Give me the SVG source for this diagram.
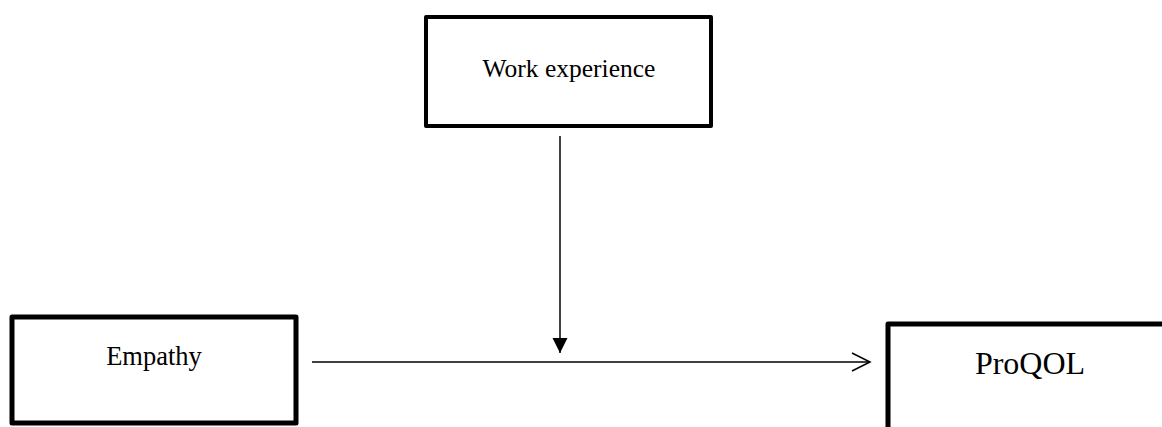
<svg xmlns="http://www.w3.org/2000/svg" width="1162" height="427" viewBox="0 0 1162 427">
<style>
.box{fill:#fff;stroke:#000;stroke-width:5;stroke-linejoin:round}
.lbl{font-family:"Liberation Serif","Times New Roman",serif;fill:#000;text-anchor:middle}
.conn{stroke:#000;stroke-width:1.5;fill:none}
</style>
<defs>
<marker id="filled" markerWidth="16" markerHeight="16" refX="15" refY="7.5" orient="auto" markerUnits="userSpaceOnUse">
<path d="M0,0 L15,7.5 L0,15 Z" fill="#000"/>
</marker>
<marker id="open" markerWidth="22" markerHeight="24" refX="19" refY="10" orient="auto" markerUnits="userSpaceOnUse">
<path d="M1,1 L19,10 L1,19" fill="none" stroke="#000" stroke-width="1.5"/>
</marker>
</defs>
<rect width="1162" height="427" fill="#fff"/>
<g id="work">
<rect class="box" x="426" y="17" width="285" height="109" style="stroke-width:4"/>
<text class="lbl" x="569" y="77" font-size="25.5">Work experience</text>
</g>
<g id="empathy">
<rect class="box" x="12" y="317" width="284" height="106"/>
<text class="lbl" x="154" y="365" font-size="26.5">Empathy</text>
</g>
<g id="proqol">
<rect class="box" x="888" y="324" width="290" height="120"/>
<text class="lbl" x="1030" y="374" font-size="32">ProQOL</text>
</g>
<g id="connectors">
<line class="conn" x1="560" y1="136" x2="560" y2="353" marker-end="url(#filled)"/>
<line class="conn" x1="312" y1="362" x2="870" y2="362" marker-end="url(#open)"/>
</g>
</svg>
